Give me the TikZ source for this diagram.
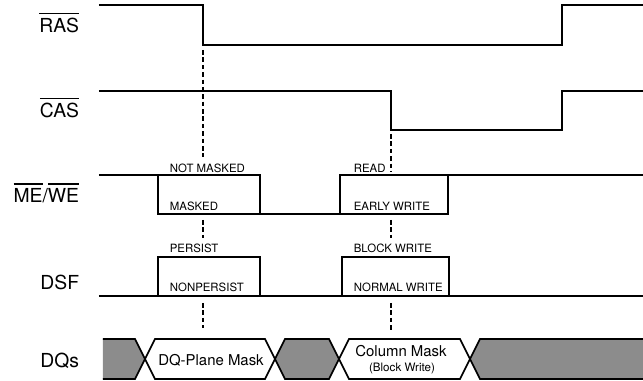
\documentclass[tikz,border=0pt]{standalone}
\usepackage{fontspec}
\setmainfont{TeX Gyre Heros}
\newcommand\barsig[1]{\vbox{\hrule height 0.7pt\kern 2.4pt\hbox{#1}}}

\begin{document}
\begin{tikzpicture}[x=1cm,y=1cm,line width=1pt,
  sig/.style={line width=1.1pt,line join=miter},
  guide/.style={line width=0.6pt,dash pattern=on 2.6pt off 1.6pt},
  signame/.style={anchor=base east,inner sep=0pt,font=\fontsize{11}{13}\selectfont},
  state/.style={anchor=base west,inner sep=0pt,font=\fontsize{6.5}{7}\selectfont},
  busfill/.style={fill=black!45,draw=none},
  bustext/.style={anchor=base,inner sep=0pt,font=\fontsize{8.5}{10}\selectfont}]
\useasboundingbox (0,0) rectangle (12.86,7.62);
% RAS
\draw[sig] (1.98,7.52) -- (4.06,7.52) -- (4.06,6.72) -- (11.24,6.72) -- (11.24,7.52) -- (12.86,7.52);
% CAS
\draw[sig] (1.98,5.80) -- (7.82,5.80) -- (7.82,5.02) -- (11.24,5.02) -- (11.24,5.80) -- (12.86,5.80);
% ME/WE
\draw[sig] (1.98,4.12) -- (5.20,4.12) -- (5.20,3.34);
\draw[sig] (3.16,4.12) -- (3.16,3.34) -- (8.96,3.34) -- (8.96,4.12);
\draw[sig] (6.80,3.34) -- (6.80,4.12) -- (12.86,4.12);
% DSF
\draw[sig] (1.98,1.70) -- (12.86,1.70);
\draw[sig] (3.16,1.70) -- (3.16,2.48) -- (5.20,2.48) -- (5.20,1.70);
\draw[sig] (6.84,1.70) -- (6.84,2.48) -- (8.98,2.48) -- (8.98,1.70);
% DQs
\fill[busfill] (2.06,0.84) -- (2.70,0.84) -- (2.90,0.44) -- (2.70,0.04) -- (2.06,0.04) -- cycle;
\fill[busfill] (5.50,0.44) -- (5.70,0.84) -- (6.58,0.84) -- (6.78,0.44) -- (6.58,0.04) -- (5.70,0.04) -- cycle;
\fill[busfill] (9.40,0.44) -- (9.60,0.84) -- (12.86,0.84) -- (12.86,0.04) -- (9.60,0.04) -- cycle;
\draw[line width=0.9pt] (2.06,0.84) -- (2.70,0.84) -- (3.10,0.04) -- (5.30,0.04) -- (5.70,0.84) -- (6.58,0.84) -- (6.98,0.04) -- (9.20,0.04) -- (9.60,0.84) -- (12.86,0.84);
\draw[line width=0.9pt] (2.06,0.04) -- (2.70,0.04) -- (3.10,0.84) -- (5.30,0.84) -- (5.70,0.04) -- (6.58,0.04) -- (6.98,0.84) -- (9.20,0.84) -- (9.60,0.04) -- (12.86,0.04);
% guides
\coordinate (rasfall) at (4.06,6.72);
\coordinate (casfall) at (7.82,5.02);
\draw[guide] ([yshift=-0.10cm]rasfall) -- (4.06,4.48);
\draw[guide] (4.06,3.22) -- (4.06,2.86);
\draw[guide] (4.06,1.56) -- (4.06,1.06);
\draw[guide] ([yshift=-0.08cm]casfall) -- (7.82,4.18);
\draw[guide] (7.82,3.22) -- (7.82,2.86);
\draw[guide] (7.82,1.56) -- (7.82,1.00);
% names
\node[signame] (ras) at (1.60,6.96) {\barsig{RAS}};
\node[signame] (cas) at (1.60,5.26) {\barsig{CAS}};
\node[signame] (mewe) at (1.60,3.56) {\barsig{ME}/\barsig{WE}};
\node[signame] (dsf) at (1.60,1.82) {DSF};
\node[signame] (dqs) at (1.60,0.26) {DQs};
% states
\node[state] (notmasked) at (3.38,4.17) {NOT MASKED};
\node[state] (masked) at (3.38,3.41) {MASKED};
\node[state] (persist) at (3.38,2.57) {PERSIST};
\node[state] (nonpersist) at (3.38,1.79) {NONPERSIST};
\node[state] (read) at (7.06,4.17) {READ};
\node[state] (earlywrite) at (7.06,3.41) {EARLY WRITE};
\node[state] (blockwrite) at (7.06,2.57) {BLOCK WRITE};
\node[state] (normalwrite) at (7.06,1.79) {NORMAL WRITE};
% bus values
\node[bustext] (planemask) at (4.22,0.30) {DQ-Plane Mask};
\node[bustext] (colmask) at (8.02,0.48) {Column Mask};
\node[bustext,font=\fontsize{6.6}{8}\selectfont] (colnote) at (8.04,0.19) {(Block Write)};
\end{tikzpicture}
\end{document}
